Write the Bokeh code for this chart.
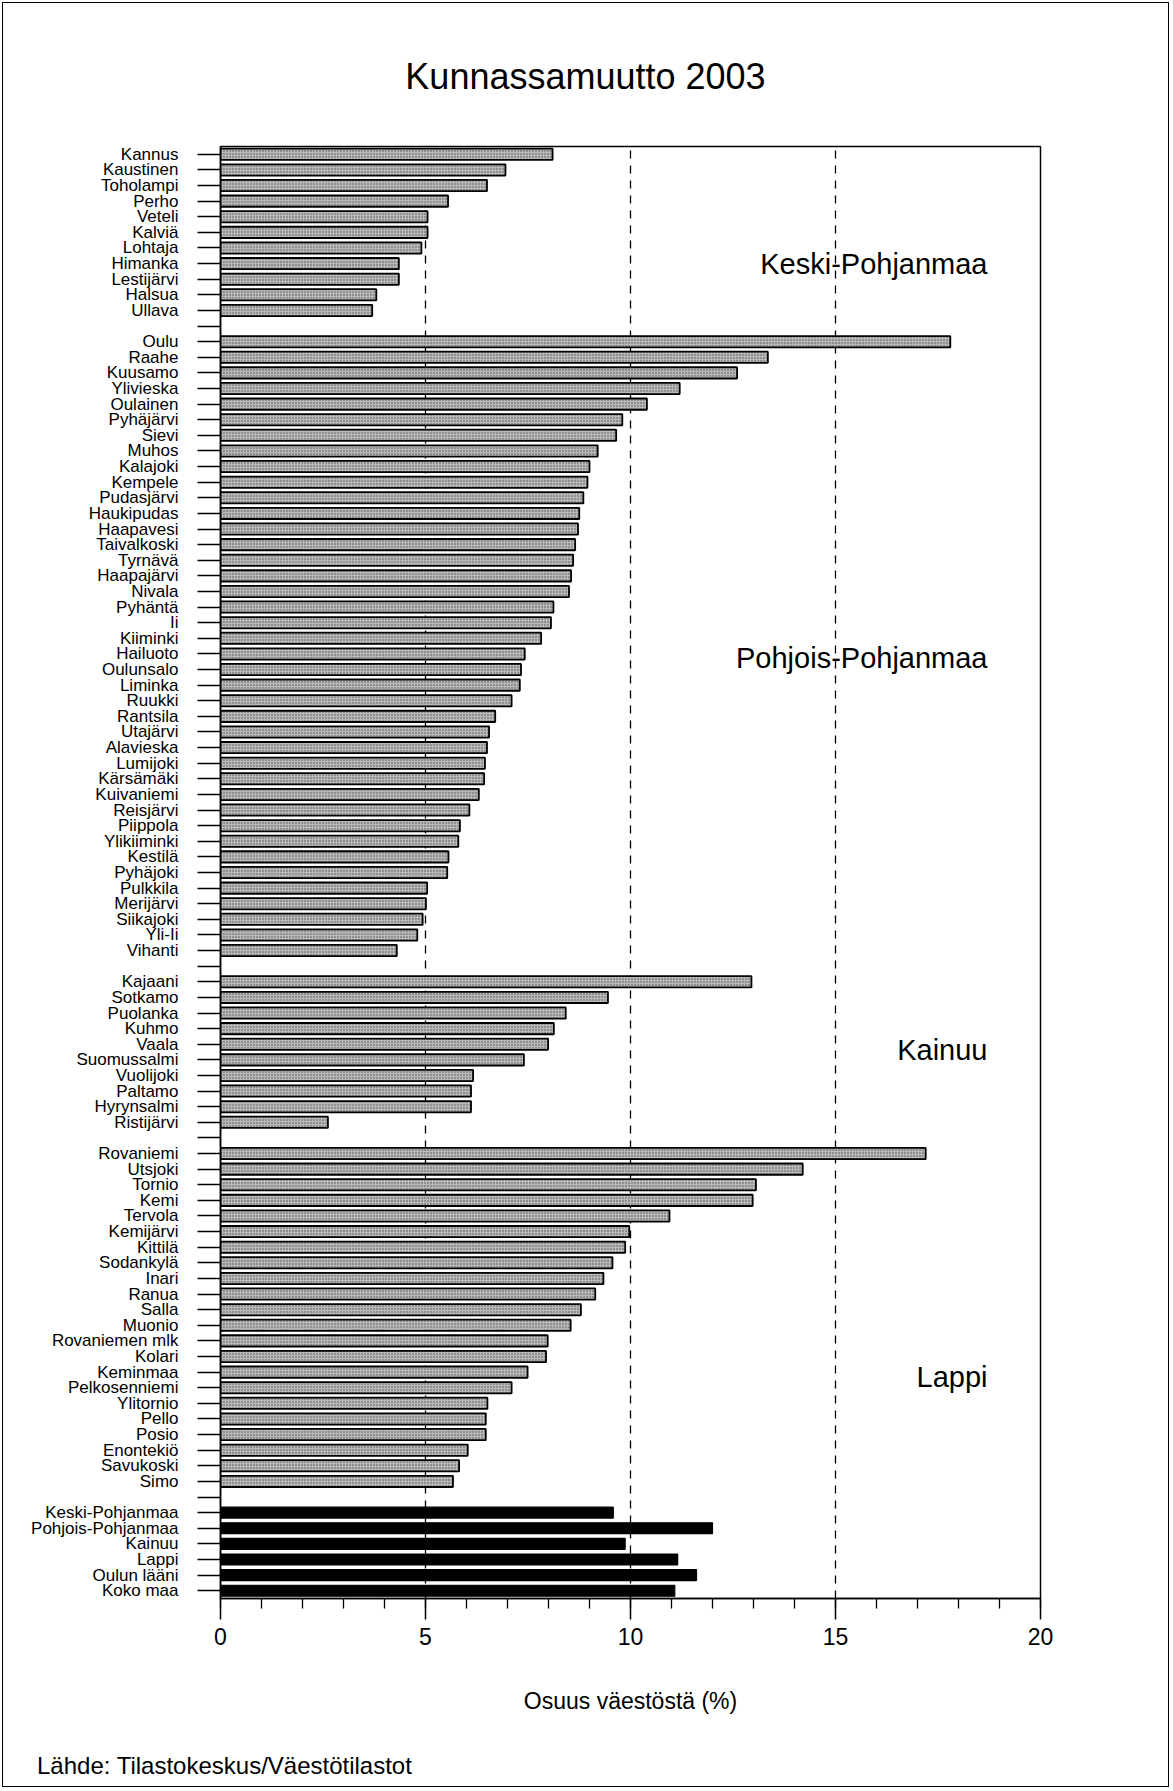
from bokeh.plotting import figure
from bokeh.models import FactorRange, Range1d, Label, FixedTicker, ColumnDataSource, Div
from bokeh.layouts import column
from bokeh.embed import file_html
from bokeh.resources import INLINE

# ---------------- data ----------------
keski_names = ["Kannus", "Kaustinen", "Toholampi", "Perho", "Veteli", "Kalviä",
               "Lohtaja", "Himanka", "Lestijärvi", "Halsua", "Ullava"]
keski_vals = [8.1, 6.95, 6.5, 5.55, 5.05, 5.05, 4.9, 4.35, 4.35, 3.8, 3.7]

pohjois_names = ["Oulu", "Raahe", "Kuusamo", "Ylivieska", "Oulainen", "Pyhäjärvi",
                 "Sievi", "Muhos", "Kalajoki", "Kempele", "Pudasjärvi", "Haukipudas",
                 "Haapavesi", "Taivalkoski", "Tyrnävä", "Haapajärvi", "Nivala",
                 "Pyhäntä", "Ii", "Kiiminki", "Hailuoto", "Oulunsalo", "Liminka",
                 "Ruukki", "Rantsila", "Utajärvi", "Alavieska", "Lumijoki",
                 "Kärsämäki", "Kuivaniemi", "Reisjärvi", "Piippola", "Ylikiiminki",
                 "Kestilä", "Pyhäjoki", "Pulkkila", "Merijärvi", "Siikajoki",
                 "Yli-Ii", "Vihanti"]
pohjois_vals = [17.8, 13.35, 12.6, 11.2, 10.4, 9.8, 9.65, 9.2, 9.0, 8.95, 8.85, 8.75,
                8.72, 8.65, 8.6, 8.55, 8.5, 8.12, 8.06, 7.82, 7.42, 7.33, 7.3,
                7.1, 6.7, 6.55, 6.5, 6.45, 6.43, 6.3, 6.07, 5.84, 5.8,
                5.56, 5.53, 5.04, 5.01, 4.93, 4.8, 4.3]

kainuu_names = ["Kajaani", "Sotkamo", "Puolanka", "Kuhmo", "Vaala", "Suomussalmi",
                "Vuolijoki", "Paltamo", "Hyrynsalmi", "Ristijärvi"]
kainuu_vals = [12.95, 9.45, 8.42, 8.13, 7.99, 7.4, 6.16, 6.11, 6.11, 2.62]

lappi_names = ["Rovaniemi", "Utsjoki", "Tornio", "Kemi", "Tervola", "Kemijärvi",
               "Kittilä", "Sodankylä", "Inari", "Ranua", "Salla", "Muonio",
               "Rovaniemen mlk", "Kolari", "Keminmaa", "Pelkosenniemi", "Ylitornio",
               "Pello", "Posio", "Enontekiö", "Savukoski", "Simo"]
lappi_vals = [17.2, 14.2, 13.06, 12.98, 10.95, 9.97, 9.87, 9.56, 9.34, 9.14, 8.79,
              8.54, 7.98, 7.94, 7.49, 7.1, 6.51, 6.47, 6.47, 6.03, 5.82, 5.67]

summary_names = ["Keski-Pohjanmaa", "Pohjois-Pohjanmaa", "Kainuu", "Lappi",
                 "Oulun lääni", "Koko maa"]
summary_vals = [9.58, 12.0, 9.87, 11.15, 11.61, 11.08]

region_labels = ["Keski-Pohjanmaa", "Pohjois-Pohjanmaa", "Kainuu", "Lappi"]
x_ticks = [0, 5, 10, 15, 20]

title_text = "Kunnassamuutto 2003"
x_label = "Osuus väestöstä (%)"
source_text = "Lähde: Tilastokeskus/Väestötilastot"

# ---------------- rows (top to bottom), blank rows between groups ----------------
groups = [keski_names, pohjois_names, kainuu_names, lappi_names, summary_names]
rows = []
for gi, g in enumerate(groups):
    rows += g
    if gi < len(groups) - 1:
        rows.append(" " * (gi + 1))
N = len(rows)

FONT = "Liberation Sans"
W = 1171
TITLE_H = 110
FIG_H = 1624
SRC_H = 55
ML, MR, MT, MB = 220, 131, 36, 136
frame_w = W - ML - MR
frame_h = FIG_H - MT - MB
px_x = frame_w / (x_ticks[-1] - x_ticks[0])
px_row = frame_h / N

p = figure(width=W, height=FIG_H, output_backend="svg", toolbar_location=None,
           y_range=FactorRange(factors=rows[::-1], range_padding=0),
           x_range=Range1d(x_ticks[0], x_ticks[-1]),
           min_border_left=ML, min_border_right=MR, min_border_top=MT, min_border_bottom=MB,
           margin=0)
p.outline_line_color = "black"
p.outline_line_width = 1.5
p.background_fill_color = "white"
p.border_fill_color = None

# grid: dashed verticals at 5, 10, 15
p.ygrid.grid_line_color = None
p.xgrid.ticker = FixedTicker(ticks=x_ticks[1:-1])
p.xgrid.grid_line_color = "black"
p.xgrid.grid_line_width = 1.3
p.xgrid.grid_line_dash = "8 7"

# municipality bars
muni_names = keski_names + pohjois_names + kainuu_names + lappi_names
muni_vals = keski_vals + pohjois_vals + kainuu_vals + lappi_vals
src = ColumnDataSource(dict(y=muni_names, right=muni_vals))
p.hbar(y="y", left=0, right="right", height=0.72, source=src,
       fill_color="#b9b9b9", line_color="black", line_width=1.8,
       hatch_pattern="dot", hatch_scale=3, hatch_color="#3c3c3c", hatch_weight=1,
       hatch_alpha=0.85)

# summary bars
src2 = ColumnDataSource(dict(y=summary_names, right=summary_vals))
p.hbar(y="y", left=0, right="right", height=0.7, source=src2,
       fill_color="black", line_color="black", line_width=1.2)

# y axis
ya = p.yaxis[0]
ya.major_label_text_font = FONT
ya.major_label_text_font_size = "17px"
ya.major_label_text_color = "black"
ya.major_tick_out = 23
ya.major_tick_in = 0
ya.major_tick_line_width = 1.6
ya.major_tick_line_color = "black"
ya.major_label_standoff = 19
ya.axis_line_color = "black"
ya.axis_line_width = 1.5

# x axis
xa = p.xaxis[0]
xa.ticker = FixedTicker(ticks=x_ticks, minor_ticks=list(range(x_ticks[0], x_ticks[-1] + 1)))
xa.major_tick_out = 21
xa.major_tick_in = 0
xa.minor_tick_out = 10
xa.minor_tick_in = 0
xa.major_tick_line_width = 1.5
xa.minor_tick_line_width = 1.3
xa.major_tick_line_color = "black"
xa.minor_tick_line_color = "black"
xa.axis_line_width = 1.5
xa.axis_line_color = "black"
xa.major_label_text_font = FONT
xa.major_label_text_font_size = "23px"
xa.major_label_text_color = "black"
xa.major_label_standoff = 8
xa.axis_label = x_label
xa.axis_label_text_font = FONT
xa.axis_label_text_font_size = "23px"
xa.axis_label_text_font_style = "normal"
xa.axis_label_text_color = "black"
xa.axis_label_standoff = 40


def to_data(px, py):
    """page-pixel position -> data / synthetic coordinates of the figure"""
    fy = py - TITLE_H
    return (x_ticks[0] + (px - ML) / px_x, N - (fy - MT) / px_row)


# region labels
region_px = [(987, 263), (987, 657), (987, 1049), (987, 1376)]
for name, (rx, ry) in zip(region_labels, region_px):
    dx, dy = to_data(rx, ry)
    p.add_layout(Label(x=dx, y=dy, text=name, text_font=FONT, text_font_size="29px",
                       text_align="right", text_baseline="middle", text_color="black"))

# title and source as text blocks above / below the figure
title_div = Div(
    text=(f'<div style="position:relative;width:{W}px;height:{TITLE_H}px;">'
          f'<div style="position:absolute;top:55px;left:0;width:{W}px;text-align:center;'
          f'font-family:\'{FONT}\';font-size:36px;line-height:44px;color:black;">'
          f'{title_text}</div></div>'),
    width=W, height=TITLE_H, margin=0)
source_div = Div(
    text=(f'<div style="position:relative;width:{W}px;height:{SRC_H}px;">'
          f'<div style="position:absolute;top:17px;left:37px;white-space:nowrap;'
          f'font-family:\'{FONT}\';font-size:24px;line-height:30px;color:black;">'
          f'{source_text}</div></div>'),
    width=W, height=SRC_H, margin=0)

layout = column(title_div, p, source_div, spacing=0, margin=0)
layout.styles = {"outline": "1.5px solid black", "outline-offset": "-3px",
                 "background": "white"}

open("out.html", "w").write(file_html(layout, INLINE))
